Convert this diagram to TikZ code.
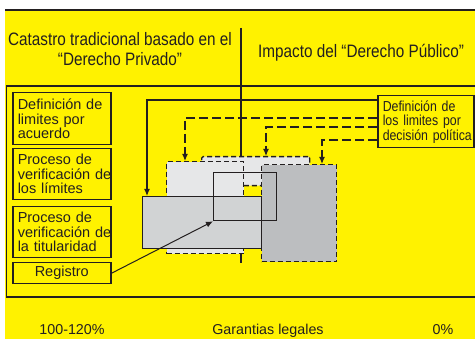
\documentclass[tikz,border=0pt]{standalone}
\usepackage{fontspec}
\setmainfont{Liberation Sans}
\newfontfamily\narrowfont[FakeStretch=0.85]{Liberation Sans}
\usetikzlibrary{arrows.meta}
\definecolor{ylw}{HTML}{FFF200}
\definecolor{ink}{HTML}{231F20}
\definecolor{gA}{HTML}{E6E7E8}
\definecolor{gC}{HTML}{D1D3D4}
\definecolor{gD}{HTML}{BCBEC0}
\tikzset{
  lbox/.style={draw=ink, line width=1.5pt, anchor=north west, inner ysep=0pt, inner xsep=5pt,
    minimum width=98pt, text width=88pt, align=left, font=\fontsize{14.5}{14.5}\selectfont, text=ink},
  shapebox/.style={anchor=north west, inner sep=0pt, line width=1.3pt},
  dashbox/.style={shapebox, draw=ink, dash pattern=on 5pt off 3pt},
  hdr/.style={font=\narrowfont\fontsize{18}{20}\selectfont, text=ink, align=center, inner sep=0pt},
  foot/.style={font=\fontsize{14.3}{16}\selectfont, text=ink, anchor=base, inner sep=0pt},
  conn/.style={draw=ink, line width=1.2pt, -{Latex[length=7pt,width=6pt]}},
  dconn/.style={conn, dash pattern=on 9pt off 4pt},
}
\begin{document}
\begin{tikzpicture}[x=1pt,y=-1pt]
\useasboundingbox (0,0) rectangle (475,339);
\fill[ylw] (5,10) rectangle (475,339);
\draw[ink, line width=2pt] (5,10) -- (475,10);
% frame
\draw[ink, line width=1.2pt] (475,86) -- (6.5,86) -- (6.5,297) -- (475,297);
% divider
\coordinate (dtop) at (241,28);
\coordinate (dbot) at (241,263);
\draw[ink, line width=1.2pt] (dtop) -- (dbot);
% headers
\node[hdr] (h1) at (120,49) {Catastro tradicional basado en el\\“Derecho Privado”};
\node[hdr, anchor=base] (h2) at (361,58) {Impacto del “Derecho Público”};
% left boxes
\node[lbox, minimum height=52pt] (b1) at (12,92) {Definición~de\\limites~por\\acuerdo};
\node[lbox, minimum height=51pt] (b2) at (12,148) {Proceso~de\\verificación~de\\los~límites};
\node[lbox, minimum height=51pt] (b3) at (12,206) {Proceso~de\\verificación~de\\la~titularidad};
\node[lbox, minimum height=21pt, align=center] (reg) at (12,262) {Registro};
% right box
\node[lbox, font=\narrowfont\fontsize{14.5}{14.5}\selectfont, minimum width=96pt, text width=86pt, inner xsep=5pt, minimum height=52pt] (rb) at (377,95) {Definición~de\\los~limites~por\\decisión~política};
% grey shapes
\node[dashbox, fill=gA, rounded corners=1.5pt, minimum width=108pt, minimum height=29pt] (B) at (201,156) {};
\node[dashbox, fill=gA, minimum width=77pt, minimum height=92pt] (A) at (166,161) {};
\node[shapebox, draw=ink, fill=gC, minimum width=119pt, minimum height=52pt] (C) at (142,196) {};
\node[dashbox, fill=gD, minimum width=75pt, minimum height=97pt] (D) at (261,164) {};
\node[shapebox, draw=ink, minimum width=63pt, minimum height=48pt] (E) at (213,172) {};
% connectors
\draw[conn] ([yshift=-5pt]rb.north west) -| ([xshift=5pt]C.north west);
\draw[dconn] ([yshift=-23pt]rb.north west) -| ([xshift=19pt]A.north west);
\draw[dconn] ([yshift=-32pt]rb.north west) -| ([xshift=65pt]B.north west);
\draw[dconn] ([yshift=-45pt]rb.north west) -| ([xshift=61pt]D.north west);
\draw[conn, line width=1pt] (reg.east) -- (E.south west);
% footer
\node[foot] (f1) at (72,335) {100-120\%};
\node[foot] (f2) at (268,335) {Garantias legales};
\node[foot] (f3) at (443,335) {0\%};
\end{tikzpicture}
\end{document}
